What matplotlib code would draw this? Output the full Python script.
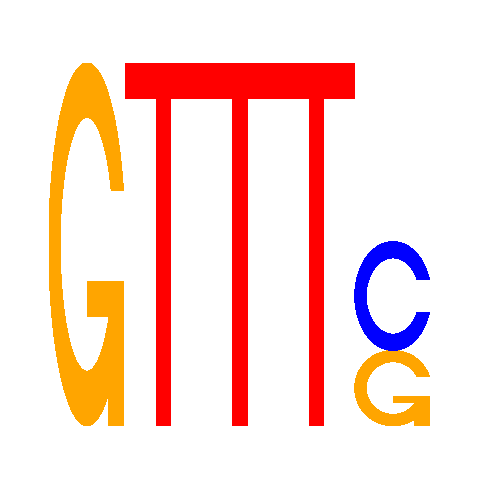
import numpy as np
import matplotlib
matplotlib.use("Agg")
import matplotlib.pyplot as plt
from matplotlib.patches import Polygon

# letter stacks per position, bottom to top, heights in bits
positions = [1, 2, 3, 4, 5]
letters = [["G"], ["T"], ["T"], ["T"], ["G", "C"]]
heights = [[2.0], [2.0], [2.0], [2.0], [0.415, 0.6]]

colors = {"A": "#00ff00", "C": "#0000ff", "G": "#ffa500", "T": "#ff0000"}


def ring_shape():
    # open ring used by C and G, in a unit box
    a1 = np.linspace(0.3 + np.pi / 2, np.pi, 100)
    a2 = np.linspace(np.pi, 1.5 * np.pi, 100)
    xl = np.concatenate([0.5 + 0.5 * np.sin(a1), 0.5 + 0.5 * np.sin(a2)])
    yl = np.concatenate([0.5 + 0.5 * np.cos(a1), 0.5 + 0.5 * np.cos(a2)])
    x = np.concatenate([xl, xl[::-1]])
    y = np.concatenate([yl, 1 - yl[::-1]])

    h = (0.5 + 0.5 * np.cos(a1)).max()
    xi1 = 0.5 + 0.35 * np.sin(a1)
    yi1 = 0.5 + 0.35 * np.cos(a1)
    keep = yi1 <= h
    xi1, yi1 = xi1[keep], yi1[keep]
    yi1[0] = h
    xi = np.concatenate([xi1, 0.5 + 0.35 * np.sin(a2)])
    yi = np.concatenate([yi1, 0.5 + 0.35 * np.cos(a2)])
    x1 = np.concatenate([xi, xi[::-1]])
    y1 = np.concatenate([yi, 1 - yi[::-1]])

    x = np.concatenate([x, x1[::-1]])
    y = np.concatenate([y, y1[::-1]])
    return [np.column_stack([x, y])]


def letter_shapes(ch):
    if ch == "T":
        x = np.array([0, 10, 10, 6, 6, 4, 4, 0]) * 0.1
        y = np.array([10, 10, 9, 9, 0, 0, 9, 9]) * 0.1
        return [np.column_stack([x, y])]
    if ch == "C":
        return ring_shape()
    if ch == "G":
        r1 = 0.5 + 0.5 * np.cos(0.3)
        h1 = 0.4
        xa = [r1, 0.5, 0.5, r1 - 0.2, r1 - 0.2, r1, r1]
        ya = [h1, h1, h1 - 0.1, h1 - 0.1, 0, 0, h1]
        return ring_shape() + [np.column_stack([xa, ya])]
    return []


fig = plt.figure(figsize=(4.8, 4.8), dpi=100)
ax = fig.add_axes([48.75 / 480, 54.3 / 480, 382.5 / 480, 362.7 / 480])
for pos, lets, hs in zip(positions, letters, heights):
    y0 = 0
    for ch, h in zip(lets, hs):
        for pts in letter_shapes(ch):
            xy = np.column_stack([pos - 0.5 + pts[:, 0], y0 + h * pts[:, 1]])
            ax.add_patch(Polygon(xy, closed=True, fc=colors[ch], ec="none",
                                 antialiased=False))
        y0 += h

ax.set_xlim(0.5, 5.5)
ax.set_ylim(0, 2)
ax.axis("off")
fig.savefig("out.png", dpi=100)
